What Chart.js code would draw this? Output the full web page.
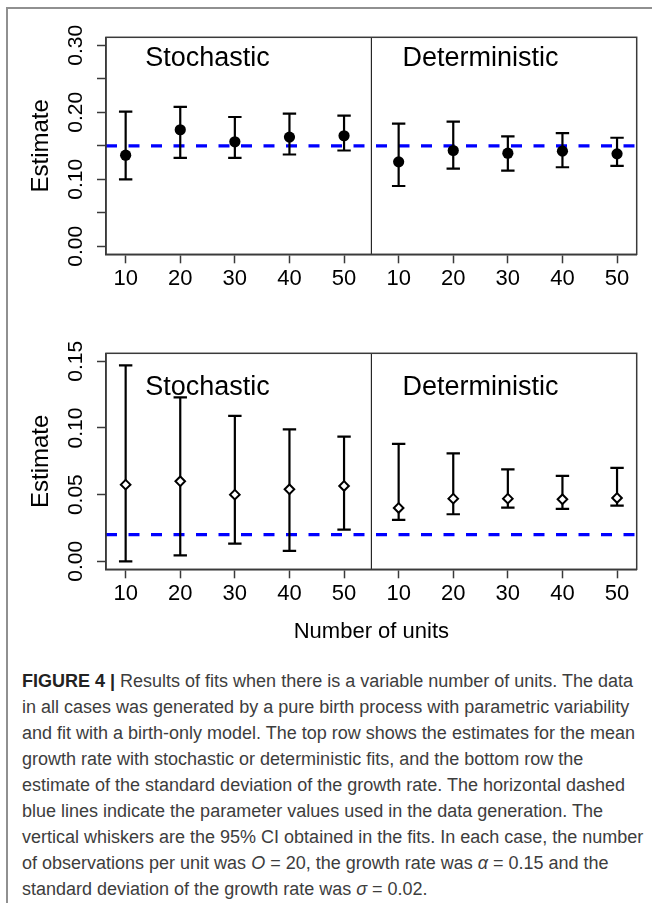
<!DOCTYPE html>
<html><head><meta charset="utf-8">
<script src="https://cdn.jsdelivr.net/npm/chart.js@4.4.1/dist/chart.umd.min.js"></script>
<style>
html,body{margin:0;padding:0;background:#fff;}
body{width:652px;height:903px;position:relative;overflow:hidden;}
#frame{position:absolute;left:6px;top:7px;width:700px;height:1000px;border-left:2px solid #909090;border-top:2px solid #909090;}
#c1{position:absolute;left:0;top:0;}
#c2{position:absolute;left:0;top:300px;}
#cap{position:absolute;left:22px;top:668px;font-family:"Liberation Sans",Arial,sans-serif;font-size:18px;line-height:26px;color:#3d3d3d;white-space:nowrap;}
#cap b{font-weight:bold;color:#222;}
</style></head>
<body>
<div id="frame"></div>
<canvas id="c1" width="652" height="300"></canvas>
<canvas id="c2" width="652" height="350"></canvas>
<div id="cap">
<div><b>FIGURE 4 |</b> Results of fits when there is a variable number of units. The data</div>
<div>in all cases was generated by a pure birth process with parametric variability</div>
<div>and fit with a birth-only model. The top row shows the estimates for the mean</div>
<div>growth rate with stochastic or deterministic fits, and the bottom row the</div>
<div>estimate of the standard deviation of the growth rate. The horizontal dashed</div>
<div>blue lines indicate the parameter values used in the data generation. The</div>
<div>vertical whiskers are the 95% CI obtained in the fits. In each case, the number</div>
<div>of observations per unit was <i>O</i> = 20, the growth rate was <i>α</i> = 0.15 and the</div>
<div>standard deviation of the growth rate was <i>σ</i> = 0.02.</div>
</div>
<script>
// ---- data ----
const unitLabels = ['10','20','30','40','50','10','20','30','40','50'];
const panelNames = ['Stochastic','Deterministic'];

const meanEst = [0.136, 0.174, 0.156, 0.163, 0.165, 0.126, 0.143, 0.139, 0.142, 0.138];
const meanLo  = [0.100, 0.132, 0.132, 0.137, 0.143, 0.090, 0.116, 0.113, 0.118, 0.120];
const meanHi  = [0.201, 0.208, 0.193, 0.198, 0.195, 0.183, 0.186, 0.164, 0.169, 0.162];
const meanTrue = 0.15;

const sdEst = [0.0575, 0.060, 0.050, 0.054, 0.0565, 0.040, 0.047, 0.047, 0.0465, 0.0475];
const sdLo  = [0.000, 0.0045, 0.0133, 0.0078, 0.0238, 0.031, 0.0353, 0.0403, 0.0393, 0.0418];
const sdHi  = [0.147, 0.123, 0.109, 0.099, 0.0935, 0.088, 0.081, 0.069, 0.064, 0.070];
const sdTrue = 0.02;

const meanTicks = [0, 0.05, 0.10, 0.15, 0.20, 0.25, 0.30];
const meanTickLabels = ['0.00', '', '0.10', '', '0.20', '', '0.30'];
const sdTicks = [0, 0.05, 0.10, 0.15];
const sdTickLabels = ['0.00', '0.05', '0.10', '0.15'];

// ---- drawing ----
const FONT = '"Liberation Sans", Arial, sans-serif';
const AXC = '#3a3a3a';
const xPos = unitLabels.map((_, i) => i + 1);
const xMin = 1 - 0.04 * (xPos.length - 1);
const xMax = xPos.length + 0.04 * (xPos.length - 1);
const divider = xPos.length / 2 + 0.5;

const errorBarPlugin = {
  id: 'errorBars',
  beforeDatasetDraw(chart, args, opts) {
    if (args.index !== 0) return;
    const ctx = chart.ctx, xs = chart.scales.x, ys = chart.scales.y;
    ctx.save();
    ctx.strokeStyle = '#000';
    ctx.lineWidth = 2.2;
    ctx.lineCap = 'butt';
    opts.lo.forEach((lo, i) => {
      const px = xs.getPixelForValue(xPos[i]);
      const pl = ys.getPixelForValue(lo), ph = ys.getPixelForValue(opts.hi[i]);
      ctx.beginPath();
      ctx.moveTo(px, pl); ctx.lineTo(px, ph);
      ctx.moveTo(px - 6.7, pl); ctx.lineTo(px + 6.7, pl);
      ctx.moveTo(px - 6.7, ph); ctx.lineTo(px + 6.7, ph);
      ctx.stroke();
    });
    ctx.restore();
  }
};

const boxPlugin = {
  id: 'box',
  afterDatasetsDraw(chart, args, opts) {
    const ctx = chart.ctx, a = chart.chartArea, xs = chart.scales.x, ys = chart.scales.y;
    ctx.save();
    ctx.strokeStyle = AXC; ctx.lineWidth = 1.5;
    ctx.strokeRect(a.left, a.top, a.right - a.left, a.bottom - a.top);
    ctx.fillStyle = '#000';
    ctx.font = opts.size + 'px ' + FONT;
    ctx.textAlign = 'center'; ctx.textBaseline = 'middle';
    panelNames.forEach((n, i) => {
      ctx.fillText(n, xs.getPixelForValue(opts.xs[i]), ys.getPixelForValue(opts.y));
    });
    ctx.restore();
  }
};

function makeChart(id, est, lo, hi, truth, yTicks, yLabels, padTop, xAxisH, showXTitle, pstyle, labelY) {
  const yTop = yTicks[yTicks.length - 1];
  const yMin = -0.04 * yTop, yMax = yTop * 1.04;
  const filled = pstyle === 'circle';
  return new Chart(document.getElementById(id), {
    type: 'scatter',
    data: {
      datasets: [
        {
          data: xPos.map((x, i) => ({x, y: est[i]})),
          pointStyle: pstyle,
          pointRadius: filled ? 5.6 : 4.8,
          pointBackgroundColor: filled ? '#000' : '#fff',
          pointBorderColor: '#000',
          pointBorderWidth: filled ? 0 : 2,
          showLine: false
        },
        {
          data: [{x: xMin, y: truth}, {x: xMax, y: truth}],
          showLine: true, borderColor: '#0000ff', borderWidth: 3.2,
          borderDash: [11, 11.5], pointRadius: 0, fill: false
        },
        {
          data: [{x: divider, y: yMin}, {x: divider, y: yMax}],
          showLine: true, borderColor: '#000', borderWidth: 1, pointRadius: 0, fill: false
        }
      ]
    },
    options: {
      responsive: false, animation: false, devicePixelRatio: 1,
      layout: {padding: {top: padTop, right: 15.3, left: 0, bottom: 0}},
      plugins: {
        legend: {display: false}, tooltip: {enabled: false},
        errorBars: {lo, hi},
        box: {xs: [2.5, 7.5], y: labelY, size: 27}
      },
      scales: {
        x: {
          type: 'linear', min: xMin, max: xMax,
          afterBuildTicks: s => { s.ticks = xPos.map(v => ({value: v})); },
          afterFit: s => { s.height = xAxisH; },
          ticks: {autoSkip: false, minRotation: 0, maxRotation: 0, padding: 2, color: '#000',
                  font: {family: FONT, size: 22},
                  callback: (v, i) => unitLabels[i]},
          grid: {drawOnChartArea: false, drawTicks: true, tickLength: 9, tickColor: AXC, tickWidth: 1.5, color: AXC},
          border: {display: true, color: AXC, width: 1.5},
          title: {display: showXTitle, text: 'Number of units', color: '#000',
                  font: {family: FONT, size: 22}, padding: {top: 0, bottom: 5}}
        },
        y: {
          type: 'linear', min: yMin, max: yMax,
          afterBuildTicks: s => { s.ticks = yTicks.map(v => ({value: v})); },
          afterFit: s => { s.width = 106; },
          ticks: {autoSkip: false, minRotation: 90, maxRotation: 90, crossAlign: 'center', padding: 0,
                  color: '#000', font: {family: FONT, size: 21},
                  callback: (v, i) => yLabels[i]},
          grid: {drawOnChartArea: false, drawTicks: true, tickLength: 9, tickColor: AXC, tickWidth: 1.5, color: AXC},
          border: {display: true, color: AXC, width: 1.5},
          title: {display: true, text: 'Estimate', color: '#000',
                  font: {family: FONT, size: 24}, padding: {top: 27, bottom: 0}}
        }
      }
    },
    plugins: [errorBarPlugin, boxPlugin]
  });
}

makeChart('c1', meanEst, meanLo, meanHi, meanTrue, meanTicks, meanTickLabels, 37.3, 45.7, false, 'circle', 0.28);
makeChart('c2', sdEst, sdLo, sdHi, sdTrue, sdTicks, sdTickLabels, 53.3, 80.7, true, 'rectRot', 0.13);
</script>
</body></html>
